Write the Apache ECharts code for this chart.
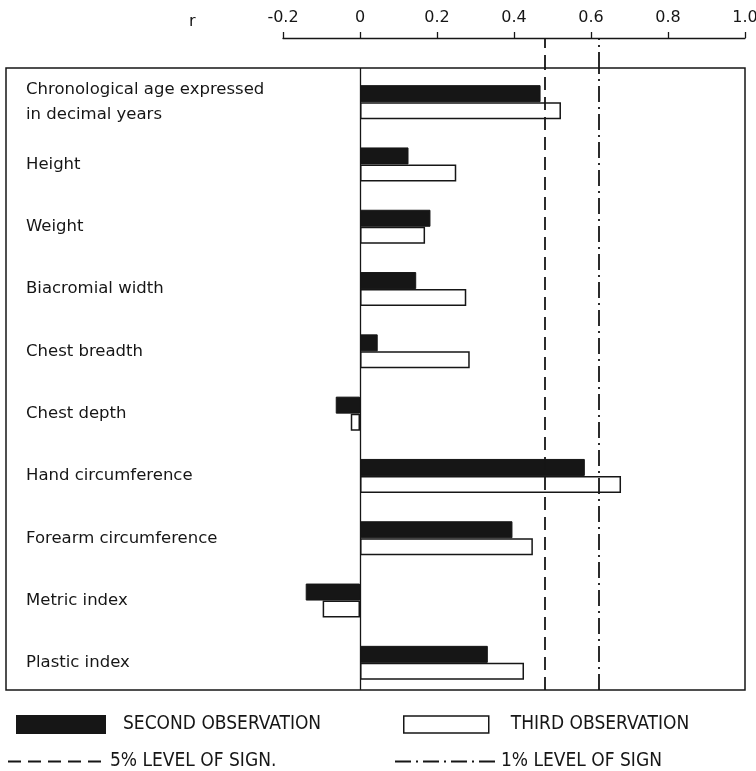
<!DOCTYPE html>
<html>
<head>
<meta charset="utf-8">
<script src="https://cdn.jsdelivr.net/npm/echarts@6/dist/echarts.min.js"></script>
<style>
  html, body { margin: 0; padding: 0; background: #fff; }
  #chart { width: 756px; height: 771px; }
</style>
</head>
<body>
<div id="chart"></div>
<script>
// correlation coefficients r
const categories = [
  'Chronological age expressed\nin decimal years',
  'Height',
  'Weight',
  'Biacromial width',
  'Chest breadth',
  'Chest depth',
  'Hand circumference',
  'Forearm circumference',
  'Metric index',
  'Plastic index'
];
const secondObs = [0.469, 0.126, 0.183, 0.146, 0.046, -0.063, 0.584, 0.396, -0.141, 0.332];
const thirdObs  = [0.522, 0.250, 0.169, 0.276, 0.285, -0.024, 0.678, 0.449, -0.097, 0.426];
const sig5 = 0.482;   // 5% level of significance
const sig1 = 0.618;   // 1% level of significance
const rTicks = ['-0.2', '0', '0.2', '0.4', '0.6', '0.8', '1.0'];

const INK = '#161616';
const FONT = '"DejaVu Sans", sans-serif';
const NARROW = '"DejaVu Sans Condensed", "Liberation Sans Narrow", "DejaVu Sans", sans-serif';

// layout: box spans 6..745 px, the r scale runs -0.2..1.0 over 283..745 px
const boxLeft = 6, boxRight = 745, axisLeft = 283;
const pxPerUnit = (boxRight - axisLeft) / 1.2;
const boxMin = -0.2 - (axisLeft - boxLeft) / pxPerUnit;

const dash5 = [13, 7];
const dash1 = [16, 5, 2, 5];

// a reference line drawn as markLine on an empty helper series
function refLine(name, axis, value, type, width) {
  return {
    name, type: 'line', xAxisIndex: axis, yAxisIndex: axis, data: [],
    symbol: 'none', color: INK, lineStyle: { color: INK, width, type },
    markLine: {
      silent: true, symbol: 'none', label: { show: false },
      lineStyle: { color: INK, width, type }, data: [{ xAxis: value }]
    }
  };
}

const legendText = (pad) => ({ fontFamily: NARROW, fontSize: 19, color: INK, padding: [0, 0, 0, pad] });

const chart = echarts.init(document.getElementById('chart'));

chart.setOption({
  animation: false,
  title: {
    text: 'r', left: 184, top: 9,
    textStyle: { fontFamily: FONT, fontSize: 16, fontWeight: 'normal', color: INK }
  },
  grid: [
    // frame
    { left: boxLeft, right: 756 - boxRight, top: 68, bottom: 81, outerBoundsMode: 'none',
      show: true, borderColor: INK, borderWidth: 1.5, backgroundColor: 'transparent' },
    // r scale above the frame
    { left: axisLeft, right: 756 - boxRight, top: 38, height: 30, outerBoundsMode: 'none' },
    // bars
    { left: boxLeft, right: 756 - boxRight, top: 71, bottom: 77, outerBoundsMode: 'none' }
  ],
  xAxis: [
    { gridIndex: 0, type: 'value', min: boxMin, max: 1, show: false },
    {
      gridIndex: 1, type: 'value', position: 'top', min: -0.2, max: 1, interval: 0.2,
      axisLine: { show: true, onZero: false, lineStyle: { color: INK, width: 1.3 } },
      axisTick: { show: true, length: 6, lineStyle: { color: INK, width: 1.3 } },
      splitLine: { show: false },
      axisLabel: {
        margin: 12, fontFamily: FONT, fontSize: 16, color: INK, hideOverlap: false,
        formatter: v => rTicks[Math.round((v + 0.2) / 0.2)]
      }
    },
    { gridIndex: 2, type: 'value', min: boxMin, max: 1, show: false }
  ],
  yAxis: [
    { gridIndex: 0, type: 'value', show: false },
    { gridIndex: 1, type: 'value', show: false },
    {
      gridIndex: 2, type: 'category', inverse: true, data: categories,
      axisLine: { show: false }, axisTick: { show: false }, splitLine: { show: false },
      axisLabel: {
        inside: true, margin: 20, fontFamily: FONT, fontSize: 16.5, color: INK, lineHeight: 25
      }
    }
  ],
  legend: [
    { left: 16, top: 715, padding: 0, itemWidth: 88, itemHeight: 17, selectedMode: false,
      textStyle: legendText(13),
      data: [{ name: 'SECOND OBSERVATION', icon: 'rect' }] },
    { left: 403, top: 715, padding: 0, itemWidth: 85, itemHeight: 17, selectedMode: false,
      textStyle: legendText(17),
      data: [{ name: 'THIRD OBSERVATION', icon: 'rect',
        itemStyle: { color: '#fff', borderColor: INK, borderWidth: 1.5 } }] },
    { left: 7, top: 752, padding: 0, itemWidth: 100, itemHeight: 18, selectedMode: false,
      itemStyle: { opacity: 0 }, textStyle: legendText(-3),
      data: ['5% LEVEL OF SIGN.'] },
    { left: 394, top: 752, padding: 0, itemWidth: 105, itemHeight: 18, selectedMode: false,
      itemStyle: { opacity: 0 }, textStyle: legendText(-4),
      data: ['1% LEVEL OF SIGN'] }
  ],
  series: [
    {
      name: 'SECOND OBSERVATION', type: 'bar', xAxisIndex: 2, yAxisIndex: 2,
      data: secondObs, barWidth: 17, barGap: '0%',
      itemStyle: { color: INK, borderColor: INK, borderWidth: 1 }
    },
    {
      name: 'THIRD OBSERVATION', type: 'bar', xAxisIndex: 2, yAxisIndex: 2,
      data: thirdObs, barWidth: 17, barGap: '0%',
      itemStyle: { color: '#fff', borderColor: INK, borderWidth: 1.5 }
    },
    refLine('zero', 0, 0, 'solid', 1.3),
    refLine('5% LEVEL OF SIGN.', 0, sig5, dash5, 1.8),
    refLine('1% LEVEL OF SIGN', 0, sig1, dash1, 1.8),
    refLine('5% LEVEL OF SIGN.', 1, sig5, dash5, 1.8),
    refLine('1% LEVEL OF SIGN', 1, sig1, dash1, 1.8)
  ]
});
</script>
</body>
</html>
